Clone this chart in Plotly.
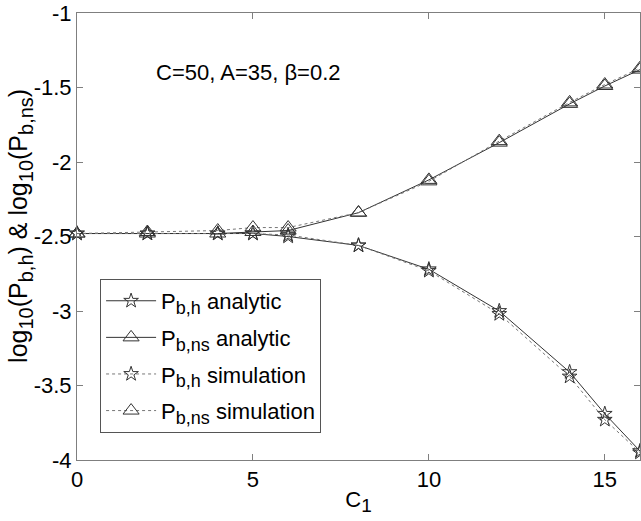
import plotly.graph_objects as go

c1 = [0, 2, 4, 5, 6, 8, 10, 12, 14, 15, 16]
ph_analytic = [-2.48, -2.48, -2.48, -2.48, -2.50, -2.56, -2.72, -3.00, -3.41, -3.69, -3.94]
pns_analytic = [-2.48, -2.48, -2.48, -2.47, -2.46, -2.34, -2.12, -1.87, -1.61, -1.49, -1.38]
ph_simulation = [-2.48, -2.48, -2.48, -2.48, -2.49, -2.56, -2.73, -3.02, -3.44, -3.73, -3.95]
pns_simulation = [-2.48, -2.47, -2.46, -2.44, -2.44, -2.34, -2.13, -1.86, -1.60, -1.48, -1.37]

FONT = "Liberation Sans, Arial, sans-serif"
LC = "#333333"


def sub(t, px=18):
    return "<sub><span style='font-size:%dpx'>%s</span></sub>" % (px, t)


fig = go.Figure()
fig.add_trace(go.Scatter(x=c1, y=ph_analytic, mode="lines+markers",
                         name="P" + sub("b,h") + " analytic", legendgroup="a",
                         line=dict(color=LC, width=1),
                         marker=dict(symbol="star-open", size=11, color=LC, line=dict(width=1)),
                         cliponaxis=False))
fig.add_trace(go.Scatter(x=c1, y=pns_analytic, mode="lines+markers",
                         name="P" + sub("b,ns") + " analytic", legendgroup="b",
                         line=dict(color=LC, width=1),
                         marker=dict(symbol="triangle-up-open", size=14, color=LC, line=dict(width=1)),
                         cliponaxis=False))
fig.add_trace(go.Scatter(x=c1, y=ph_simulation, mode="lines+markers",
                         name="P" + sub("b,h") + " simulation", legendgroup="c",
                         line=dict(color="#777777", width=1, dash="dot"),
                         marker=dict(symbol="star-open", size=11, color=LC, line=dict(width=1)),
                         cliponaxis=False))
fig.add_trace(go.Scatter(x=c1, y=pns_simulation, mode="lines+markers",
                         name="P" + sub("b,ns") + " simulation", legendgroup="d",
                         line=dict(color="#777777", width=1, dash="dot"),
                         marker=dict(symbol="triangle-up-open", size=14, color=LC, line=dict(width=1)),
                         cliponaxis=False))

fig.add_annotation(x=4.87, y=-1.396, xref="x", yref="y", showarrow=False,
                   text="C=50, A=35, β=0.2", font=dict(family=FONT, size=22, color="black"))

# y-axis label as rotated text (placed like the reference's label)
fig.add_annotation(x=-0.1, y=0.523, xref="paper", yref="paper", showarrow=False,
                   textangle=-90, xanchor="center", yanchor="middle",
                   text="log" + sub("10", 20) + "(P" + sub("b,h", 20) + ") & log" + sub("10", 20)
                        + "(P" + sub("b,ns", 20) + ")",
                   font=dict(family=FONT, size=25, color="black"))

axis_common = dict(showline=True, linecolor="#7f7f7f", linewidth=1, mirror="ticks",
                   ticks="inside", ticklen=6, tickcolor="#7f7f7f", showgrid=False,
                   zeroline=False, automargin=False, ticklabeloverflow="allow",
                   tickfont=dict(family=FONT, size=22, color="black"))

fig.update_xaxes(range=[0, 16], tickvals=[0, 5, 10, 15],
                 title=dict(text="C" + sub("1", 19), font=dict(family=FONT, size=22, color="black"), standoff=0),
                 **axis_common)
fig.update_yaxes(range=[-4, -1], tickvals=[-4, -3.5, -3, -2.5, -2, -1.5, -1],
                 ticktext=["-4", "-3.5", "-3", "-2.5", "-2", "-1.5", "-1"],
                 **axis_common)

fig.update_layout(
    width=641, height=521,
    margin=dict(l=77, r=1, t=13, b=61),
    paper_bgcolor="white", plot_bgcolor="white",
    font=dict(family=FONT, color="black"),
    legend=dict(x=0.041, y=0.405, xanchor="left", yanchor="top",
                bordercolor="#555555", borderwidth=1, bgcolor="white",
                font=dict(family=FONT, size=22, color="black"),
                itemwidth=50, tracegroupgap=5),
    showlegend=True,
)

fig.write_html("out.html", config={"displayModeBar": False},
               post_script="document.body.style.margin='0';")
